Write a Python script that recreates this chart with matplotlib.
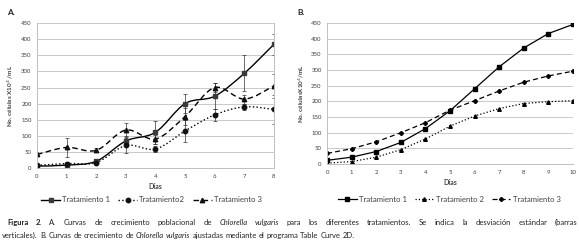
import numpy as np
import matplotlib.pyplot as plt
from matplotlib.path import Path
from matplotlib.patches import PathPatch
from matplotlib.lines import Line2D

plt.rcParams['font.family'] = ['Lato', 'DejaVu Sans']

# panel A: measured growth, mean and standard deviation
dias_a = [0, 1, 2, 3, 4, 5, 6, 7, 8]
trat1_a = [6, 9, 21, 84, 111, 200, 223, 294, 384]
trat1_sd = [3, 4, 8, 15, 35, 30, 40, 56, 32]
trat2_a = [8, 14, 17, 70, 59, 115, 165, 190, 182]
trat2_sd = [3, 4, 6, 22, 10, 33, 18, 10, 45]
trat3_a = [42, 64, 55, 118, 90, 160, 250, 214, 255]
trat3_sd = [6, 30, 6, 22, 14, 25, 15, 14, 36]

# panel B: fitted curves (Table Curve 2D)
dias_b = [0, 1, 2, 3, 4, 5, 6, 7, 8, 9, 10]
trat1_b = [12, 22, 40, 69, 113, 170, 240, 310, 370, 416, 445]
trat2_b = [3, 8, 22, 46, 80, 121, 153, 177, 193, 199, 202]
trat3_b = [34, 49, 71, 100, 132, 172, 202, 233, 261, 281, 296]

leyenda_a = ['Tratamiento 1', 'Tratamiento2', 'Tratamiento 3']
leyenda_b = ['Tratamiento 1', 'Tratamiento 2', 'Tratamiento 3']

GRID = '#c0c0c0'
TXT = '#404040'


def smooth_path(x, y):
    # excel style smoothed line, bezier segments through the data points
    p = np.column_stack([x, y]).astype(float)
    verts = [p[0]]
    codes = [Path.MOVETO]
    n = len(p)
    for i in range(n - 1):
        p0 = p[i - 1] if i > 0 else p[i]
        p3 = p[i + 2] if i + 2 < n else p[i + 1]
        c1 = p[i] + (p[i + 1] - p0) / 6.0
        c2 = p[i + 1] - (p3 - p[i]) / 6.0
        verts += [c1, c2, p[i + 1]]
        codes += [Path.CURVE4] * 3
    return Path(verts, codes)


def style_axes(ax, xmax, right):
    ax.set_ylim(0, 450)
    ax.set_yticks(range(0, 451, 50))
    ax.set_xlim(0, xmax)
    ax.set_xticks(range(0, xmax + 1))
    ax.yaxis.grid(True, color=GRID, lw=0.6)
    ax.set_axisbelow(True)
    for s in ['top', 'right']:
        ax.spines[s].set_visible(False)
    if right:
        ax.spines['right'].set_visible(True)
    for s in ['left', 'bottom', 'right']:
        ax.spines[s].set_color(GRID)
        ax.spines[s].set_linewidth(0.7)
    ax.tick_params(length=0, labelsize=4.3, colors=TXT, pad=4)
    ax.set_xlabel('Días', fontsize=5, fontweight='bold', color=TXT, labelpad=3)


fig = plt.figure(figsize=(5.79, 2.46), dpi=100)

# ---------- A ----------
axA = fig.add_axes([0.064, 0.317, 0.409, 0.589])
style_axes(axA, 8, True)
axA.set_ylabel('No. células X10$^4$ /mL', fontsize=4.6, fontweight='bold', color=TXT, labelpad=4)

series_a = [
    (trat1_a, trat1_sd, 's', '-', '#3a3a3a'),
    (trat2_a, trat2_sd, 'o', ':', '#111111'),
    (trat3_a, trat3_sd, '^', (0, (4, 2.5)), '#111111'),
]
handles = []
for (vals, sd, mk, ls, mc), lab in zip(series_a, leyenda_a):
    axA.add_patch(PathPatch(smooth_path(dias_a, vals), fill=False, ec='black',
                            lw=1.0, ls=ls))
    axA.errorbar(dias_a, vals, yerr=sd, fmt=mk, ms=3.2, color=mc, ecolor='#333333',
                 elinewidth=0.5, capsize=1.5, capthick=0.5)
    handles.append(Line2D([], [], color='black', ls=ls, lw=1.0, marker=mk, ms=3.2,
                          mfc=mc, mec=mc, label=lab))
fig.legend(handles=handles, loc='center', bbox_to_anchor=(0.262, 0.188), ncol=3,
           frameon=False, fontsize=5.6, handlelength=2.4, columnspacing=1.0,
           handletextpad=0.3, labelcolor=TXT)

fig.text(0.012, 0.94, 'A.', fontsize=6, fontweight='bold', color='#222222')

# ---------- B ----------
axB = fig.add_axes([0.565, 0.333, 0.4245, 0.574])
style_axes(axB, 10, False)
axB.set_ylabel('No. célulasX10$^4$/mL', fontsize=4.6, fontweight='bold', color=TXT, labelpad=4)

axB.plot(dias_b, trat1_b, '-s', color='black', lw=0.9, ms=3.2, label=leyenda_b[0])
axB.plot(dias_b, trat2_b, ':^', color='black', lw=0.9, ms=2.6, label=leyenda_b[1])
axB.plot(dias_b, trat3_b, '--P', color='black', lw=0.9, ms=2.6, label=leyenda_b[2],
         dashes=(4, 2.5))
axB.legend(loc='center', bbox_to_anchor=(0.776, 0.19), bbox_transform=fig.transFigure,
           ncol=3, frameon=False, fontsize=5.6, handlelength=2.4, columnspacing=1.0,
           handletextpad=0.3, labelcolor=TXT)

fig.text(0.513, 0.94, 'B.', fontsize=6, fontweight='bold', color='#222222')


# ---------- caption ----------
def words_of(parts):
    out = []
    for txt, style in parts:
        for w in txt.split():
            out.append((w, style))
    return out


def put_line(x, y, parts, size=5.5, justify_to=None):
    renderer = fig.canvas.get_renderer()
    inv = fig.transFigure.inverted()
    words = words_of(parts)
    arts = []
    for w, style in words:
        kw = dict(fontsize=size, color='#222222', va='baseline', ha='left')
        if style == 'b':
            kw['fontweight'] = 'bold'
        if style == 'i':
            kw['fontstyle'] = 'italic'
        arts.append(fig.text(x, y, w, **kw))
    widths = []
    for a in arts:
        bb = a.get_window_extent(renderer)
        widths.append(inv.transform((bb.x1, 0))[0] - inv.transform((bb.x0, 0))[0])
    space = fig.text(0, 0, 'a b', fontsize=size)
    s1 = fig.text(0, 0, 'ab', fontsize=size)
    gap = (space.get_window_extent(renderer).width - s1.get_window_extent(renderer).width) / fig.bbox.width
    space.remove()
    s1.remove()
    if justify_to is not None:
        gap = (justify_to - x - sum(widths)) / (len(arts) - 1)
    cur = x
    for a, wd in zip(arts, widths):
        a.set_x(cur)
        cur += wd + gap


put_line(0.012, 0.085, [
    ('Figura 2.', 'b'),
    (' A. Curvas de crecimiento poblacional de ', ''),
    ('Chlorella vulgaris', 'i'),
    (' para los diferentes tratamientos. Se indica la desviación estándar (barras', ''),
], justify_to=0.997)
put_line(0.004, 0.032, [
    ('verticales). B. Curvas de crecimiento de ', ''),
    ('Chlorella vulgaris', 'i'),
    (' ajustadas mediante el programa Table Curve 2D.', ''),
])

fig.savefig('out.png', dpi=100)
